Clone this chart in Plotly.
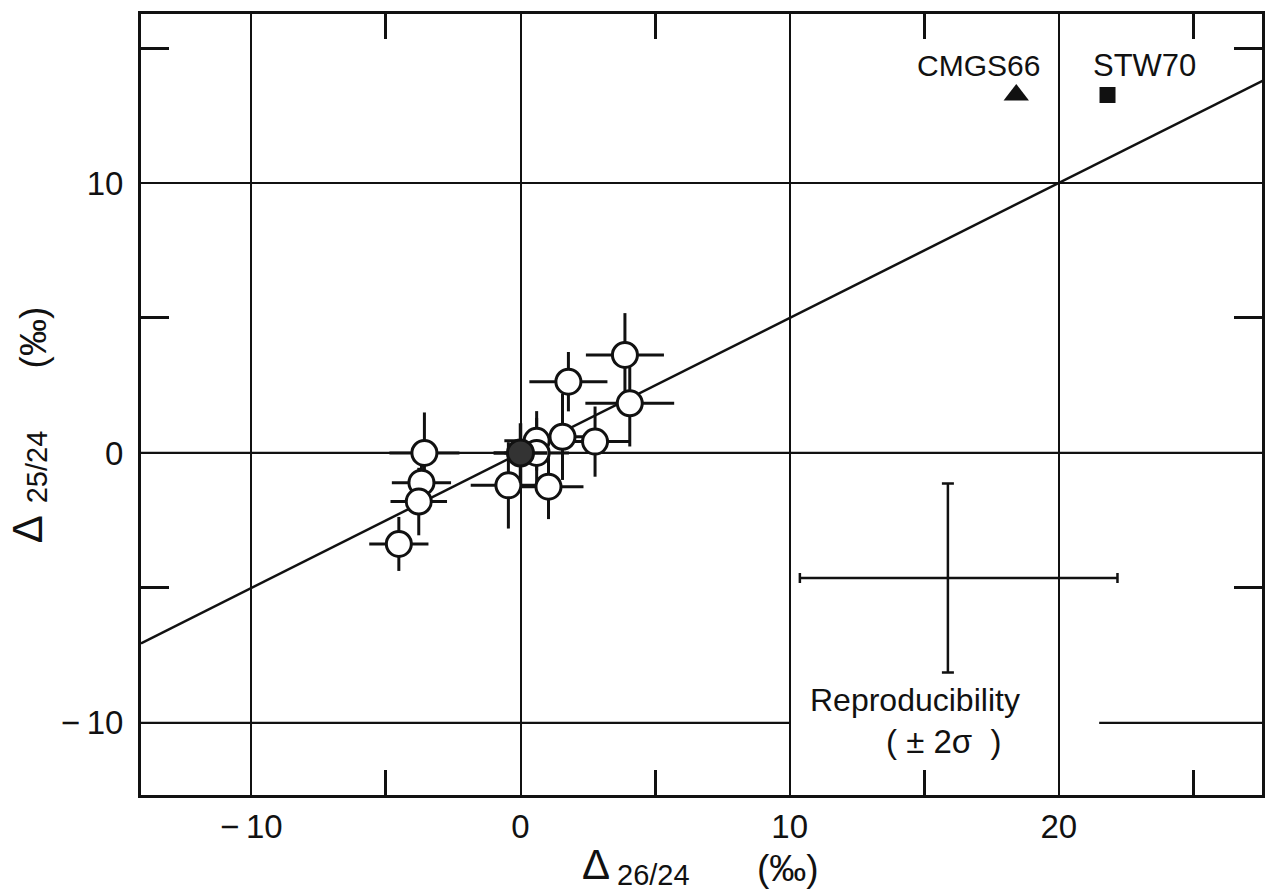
import plotly.graph_objects as go

# ---- data ----
open_x = [3.88, 4.06, 1.78, 2.77, 1.56, 0.60, 0.60, -0.45, 1.04, -3.57, -3.68, -3.78, -4.52]
open_y = [3.63, 1.84, 2.64, 0.42, 0.60, 0.45, 0.00, -1.20, -1.25, 0.00, -1.10, -1.80, -3.37]
open_ex = [1.45, 1.65, 1.45, 1.30, 1.30, 1.20, 1.20, 1.40, 1.30, 1.30, 1.10, 1.05, 1.10]
open_ey = [1.55, 1.60, 1.10, 1.30, 1.60, 1.10, 1.30, 1.60, 1.20, 1.50, 0.80, 1.25, 1.00]

cluster_x = [0.0]
cluster_y = [0.0]
cluster_ex = [1.0]
cluster_ey = [1.1]

line_x = [-14.1, 27.6]
line_y = [-7.05, 13.8]

cmgs_x = [18.42]
cmgs_y = [13.26]
stw_x = [21.81]
stw_y = [13.26]

repro_x = [15.88]
repro_y = [-4.63]
repro_ex_plus = [6.3]
repro_ex_minus = [5.5]
repro_ey = [3.5]

x_major = [-10, 0, 10, 20]
x_major_text = ["\u2212\u200910", "0", "10", "20"]
x_minor = [-5, 5, 15, 25]
y_major = [-10, 0, 10]
y_major_text = ["\u2212\u200910", "0", "10"]
y_minor = [-5, 5, 15]

FONT = "Liberation Sans"
BLACK = "#111111"

fig = go.Figure()

fig.add_trace(go.Scatter(x=line_x, y=line_y, mode="lines",
                         line=dict(color=BLACK, width=2.5), hoverinfo="skip"))

fig.add_trace(go.Scatter(
    x=open_x, y=open_y, mode="markers",
    marker=dict(symbol="circle", size=25, color="white", line=dict(color=BLACK, width=3)),
    error_x=dict(type="data", array=open_ex, color=BLACK, thickness=3, width=0),
    error_y=dict(type="data", array=open_ey, color=BLACK, thickness=3, width=0),
))

fig.add_trace(go.Scatter(
    x=cluster_x, y=cluster_y, mode="markers",
    marker=dict(symbol="circle", size=26, color="#333333", line=dict(color=BLACK, width=3)),
    error_x=dict(type="data", array=cluster_ex, color=BLACK, thickness=3.5, width=0),
    error_y=dict(type="data", array=cluster_ey, color=BLACK, thickness=3.5, width=0),
))

fig.add_trace(go.Scatter(
    x=repro_x, y=repro_y, mode="markers",
    marker=dict(size=1, color="rgba(0,0,0,0)"),
    error_x=dict(type="data", symmetric=False, array=repro_ex_plus, arrayminus=repro_ex_minus,
                 color=BLACK, thickness=2.5, width=5),
    error_y=dict(type="data", array=repro_ey, color=BLACK, thickness=2.5, width=6),
))

fig.add_trace(go.Scatter(x=cmgs_x, y=cmgs_y, mode="markers",
                         marker=dict(symbol="triangle-up", size=22, color=BLACK)))
fig.add_trace(go.Scatter(x=stw_x, y=stw_y, mode="markers",
                         marker=dict(symbol="square", size=16, color=BLACK)))

# horizontal grid lines (y = -10 is interrupted by the reproducibility box)
grid = dict(color=BLACK, width=2.2)
shapes = [
    dict(type="line", xref="x domain", yref="y", x0=0, x1=1, y0=10, y1=10, line=grid, layer="below"),
    dict(type="line", xref="x domain", yref="y", x0=0, x1=1, y0=0, y1=0, line=grid, layer="below"),
    dict(type="line", xref="x", yref="y", x0=-14.1, x1=10, y0=-10, y1=-10, line=grid, layer="below"),
    dict(type="line", xref="x", yref="y", x0=21.5, x1=27.6, y0=-10, y1=-10, line=grid, layer="below"),
]


def ann(x, y, text, size, angle=0, data=False):
    return dict(x=x, y=y, xref="x" if data else "paper", yref="y" if data else "paper",
                text=text, showarrow=False, textangle=angle,
                xanchor="center", yanchor="middle",
                font=dict(family=FONT, size=size, color=BLACK))


tf = dict(family=FONT, size=33, color=BLACK)
annotations = [
    ann(17.03, 14.37, "CMGS66", 30, data=True),
    ann(23.2, 14.37, "STW70", 31, data=True),
    ann(14.65, -9.15, "Reproducibility", 32, data=True),
    ann(15.7, -10.7, "(&nbsp;\u00b1&nbsp;2\u03c3&nbsp;&nbsp;)", 33, data=True),
    # x-axis title pieces
    ann(0.4060, -0.0885, "\u0394", 42),
    ann(0.4575, -0.1025, "26/24", 29),
    ann(0.5774, -0.094, "(\u2030)", 37),
    # y-axis title pieces (rotated)
    ann(-0.1005, 0.3406, "\u0394", 42, angle=-90),
    ann(-0.0925, 0.420, "25/24", 29, angle=-90),
    ann(-0.0960, 0.5864, "(\u2030)", 37, angle=-90),
]

fig.update_layout(
    width=1265, height=890,
    margin=dict(l=141, r=0, t=14, b=95),
    paper_bgcolor="white", plot_bgcolor="white",
    showlegend=False,
    shapes=shapes, annotations=annotations,
    xaxis=dict(range=[-14.1, 27.55], tickvals=x_major, ticktext=x_major_text,
               ticks="", ticklen=0, showgrid=True, gridcolor=BLACK, gridwidth=2.2, zeroline=False,
               showline=True, linecolor=BLACK, linewidth=3, mirror="ticks",
               tickfont=tf, ticklabelstandoff=0,
               minor=dict(tickvals=x_minor, ticks="inside", ticklen=25, tickwidth=2.5,
                          tickcolor=BLACK, showgrid=False)),
    yaxis=dict(range=[-12.67, 16.26], tickvals=y_major, ticktext=y_major_text,
               ticks="", ticklen=0, showgrid=False, zeroline=False,
               showline=True, linecolor=BLACK, linewidth=3, mirror="ticks",
               tickfont=tf, ticklabelstandoff=8,
               minor=dict(tickvals=y_minor, ticks="inside", ticklen=28, tickwidth=2.5,
                          tickcolor=BLACK, showgrid=False)),
)

fig.write_html(
    "out.html",
    config={"displayModeBar": False},
    post_script="document.body.style.margin='0px';document.body.style.overflow='hidden';",
)
